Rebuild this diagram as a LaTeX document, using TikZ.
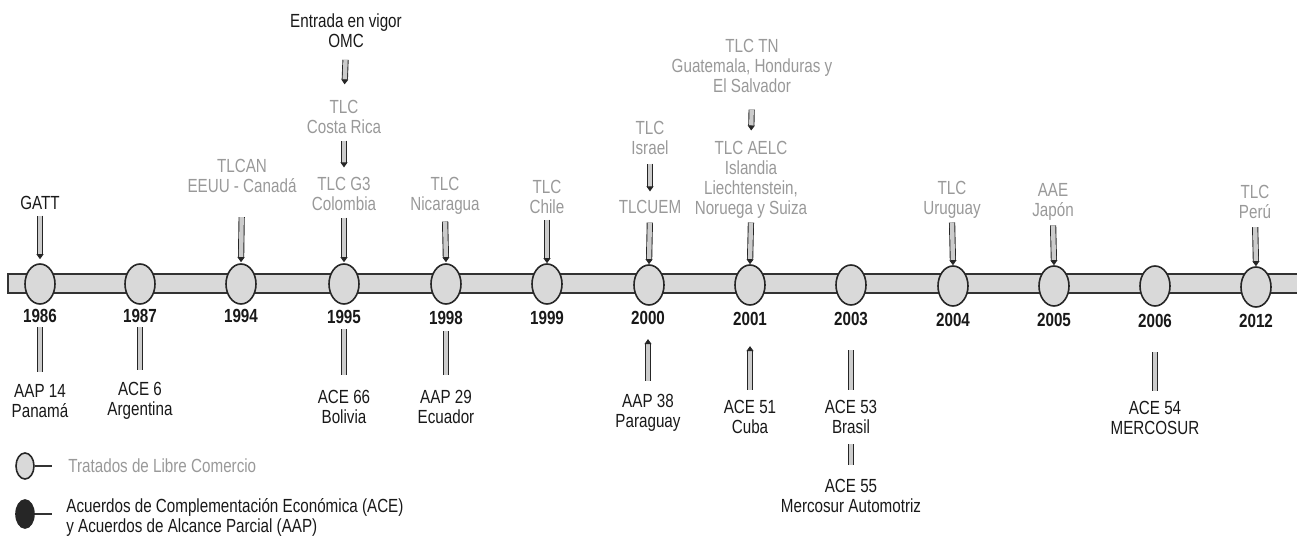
\documentclass[tikz,border=0pt]{standalone}
\usepackage{fontspec}
\setmainfont{Liberation Sans}[FakeStretch=0.8]
\usetikzlibrary{shapes.geometric,arrows.meta}
\begin{document}
\begin{tikzpicture}[x=0.5pt,y=-0.5pt,
  lbl/.style={align=center, font=\fontsize{9.5}{10}\selectfont, inner sep=0pt, text=black!90},
  tlc/.style={lbl, text=black!40},
  yr/.style={lbl, font=\fontsize{9.5}{10}\selectfont\bfseries},
  hito/.style={ellipse, draw=black!85, line width=0.8pt, fill=gray!30, minimum width=15pt, minimum height=20pt, inner sep=0pt},
  conn/.style={draw=black!85, line width=0.45pt, double=gray!40, double distance=2.2pt},
  down/.style={conn, -{Triangle[length=2.5pt,width=3.5pt]}},
  up/.style={conn, {Triangle[length=2.5pt,width=3.5pt]}-},
  bar/.style={draw=black!80, line width=0.6pt, fill=gray!30},
]
\useasboundingbox (0,0) rectangle (1297,546);

% timeline bar
\path[bar] (8,274) rectangle (1300,293);

% milestones
\node[hito] (c86) at (40,284) {};
\node[hito] (c87) at (140,284) {};
\node[hito] (c94) at (241,284) {};
\node[hito] (c95) at (344,284) {};
\node[hito] (c98) at (446,284) {};
\node[hito] (c99) at (547,284) {};
\node[hito] (c00) at (649,285) {};
\node[hito] (c01) at (750,285) {};
\node[hito] (c03) at (851,285) {};
\node[hito] (c04) at (953,286) {};
\node[hito] (c05) at (1054,286) {};
\node[hito] (c06) at (1155,286) {};
\node[hito] (c12) at (1256,287) {};

% years
\node[yr] (y86) at (40,316) {1986};
\node[yr] (y87) at (140,316) {1987};
\node[yr] (y94) at (241,316) {1994};
\node[yr] (y95) at (344,317) {1995};
\node[yr] (y98) at (446,318) {1998};
\node[yr] (y99) at (547,318) {1999};
\node[yr] (y00) at (648,318) {2000};
\node[yr] (y01) at (750,319) {2001};
\node[yr] (y03) at (851,319) {2003};
\node[yr] (y04) at (953,320) {2004};
\node[yr] (y05) at (1054,320) {2005};
\node[yr] (y06) at (1155,321) {2006};
\node[yr] (y12) at (1256,321) {2012};

% upper labels
\node[lbl] (gatt) at (40,203) {GATT};
\node[tlc] (tlcan) at (242,176) {TLCAN\\EEUU - Canadá};
\node[lbl] (omc) at (346,31) {Entrada en vigor\\OMC};
\node[tlc] (cr) at (344,117) {TLC\\Costa Rica};
\node[tlc] (g3) at (344,194) {TLC G3\\Colombia};
\node[tlc] (nic) at (445,196) {TLC\\Nicaragua};
\node[tlc] (chi) at (547,197) {TLC\\Chile};
\node[tlc] (isr) at (650,138) {TLC\\Israel};
\node[tlc] (uem) at (650,207) {TLCUEM};
\node[tlc] (tn) at (752,66) {TLC TN\\Guatemala, Honduras y\\El Salvador};
\node[tlc] (aelc) at (751,180) {TLC AELC\\Islandia\\Liechtenstein,\\Noruega y Suiza};
\node[tlc] (uru) at (952,200) {TLC\\Uruguay};
\node[tlc] (jap) at (1053,202) {AAE\\Japón};
\node[tlc] (per) at (1255,202) {TLC\\Perú};

% lower labels
\node[lbl] (aap14) at (40,401) {AAP 14\\Panamá};
\node[lbl] (ace6) at (140,401) {ACE 6\\Argentina};
\node[lbl] (ace66) at (344,407) {ACE 66\\Bolivia};
\node[lbl] (aap29) at (446,407) {AAP 29\\Ecuador};
\node[lbl] (aap38) at (648,413) {AAP 38\\Paraguay};
\node[lbl] (ace51) at (750,417) {ACE 51\\Cuba};
\node[lbl] (ace53) at (851,417) {ACE 53\\Brasil};
\node[lbl] (ace55) at (851,496) {ACE 55\\Mercosur Automotriz};
\node[lbl] (ace54) at (1155,418) {ACE 54\\MERCOSUR};

% upper connectors
\draw[down, shorten <=2.75pt, shorten >=2pt] (gatt.south) -- (c86.north);
\draw[down, shorten <=12pt, shorten >=0.5pt] (tlcan.south) -- (c94.north);
\draw[down, shorten <=5.75pt, shorten >=7.75pt] (omc.south) -- (cr.north);
\draw[down, shorten <=3.25pt, shorten >=4.75pt] (cr.south) -- (g3.north);
\draw[down, shorten <=3.25pt, shorten >=0.5pt] (g3.south) -- (c95.north);
\draw[down, shorten <=3.25pt, shorten >=0.5pt] (nic.south) -- (c98.north);
\draw[down, shorten <=2.75pt, shorten >=0pt] (chi.south) -- (c99.north);
\draw[down, shorten <=4.25pt, shorten >=4.25pt] (isr.south) -- (uem.north);
\draw[down, shorten <=4.25pt, shorten >=0pt] (uem.south) -- (c00.north);
\draw[down, shorten <=8.25pt, shorten >=5.25pt] (tn.south) -- (aelc.north);
\draw[down, shorten <=1.75pt, shorten >=0pt] (aelc.south) -- (c01.north);
\draw[down, shorten <=1.75pt, shorten >=0pt] (uru.south) -- (c04.north);
\draw[down, shorten <=2.25pt, shorten >=0pt] (jap.south) -- (c05.north);
\draw[down, shorten <=4pt, shorten >=0pt] (per.south) -- (c12.north);

% lower connectors
\draw[conn, shorten <=2pt, shorten >=6pt] (y86.south) -- (aap14.north);
\draw[conn, shorten <=2pt, shorten >=6pt] (y87.south) -- (ace6.north);
\draw[conn, shorten <=2.5pt, shorten >=7.5pt] (y95.south) -- (ace66.north);
\draw[conn, shorten <=3pt, shorten >=7.5pt] (y98.south) -- (aap29.north);
\draw[up, shorten <=7pt, shorten >=6.5pt] (y00.south) -- (aap38.north);
\draw[up, shorten <=10pt, shorten >=5pt] (y01.south) -- (ace51.north);
\draw[conn, shorten <=12pt, shorten >=5pt] (y03.south) -- (ace53.north);
\draw[conn, shorten <=5pt, shorten >=7pt] (ace53.south) -- (ace55.north);
\draw[conn, shorten <=12pt, shorten >=5pt] (y06.south) -- (ace54.north);

% legend
\node[hito, minimum width=9pt, minimum height=13pt] (legtlc) at (25,466) {};
\coordinate (legtlcend) at (52,466);
\draw[black!80, line width=1.4pt] (legtlc.east) -- (legtlcend);
\node[tlc, anchor=west] (legtlctxt) at (68,466) {Tratados de Libre Comercio};
\node[hito, fill=black!85, minimum width=9pt, minimum height=14pt] (legace) at (25,514) {};
\coordinate (legaceend) at (52,514);
\draw[black!80, line width=1.4pt] (legace.east) -- (legaceend);
\node[lbl, anchor=west, align=left] (legacetxt) at (66,517) {Acuerdos de Complementación Económica (ACE)\\y Acuerdos de Alcance Parcial (AAP)};
\end{tikzpicture}
\end{document}
